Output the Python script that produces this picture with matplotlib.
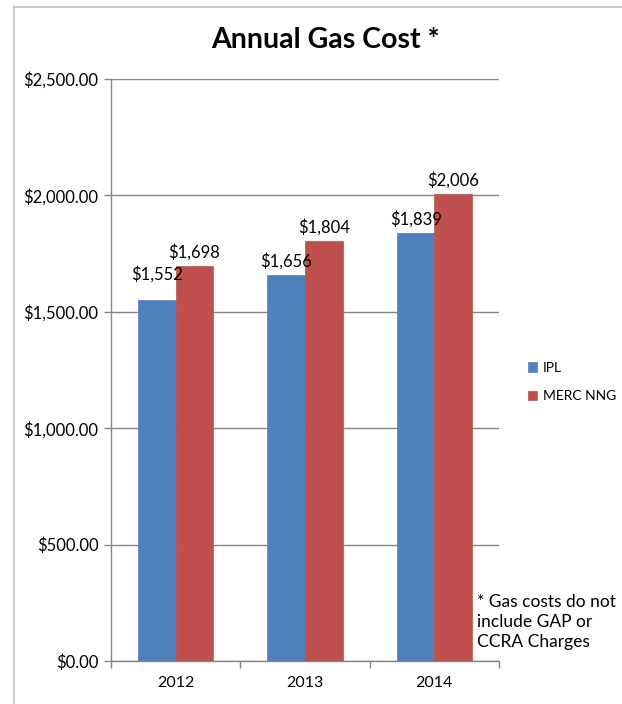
import matplotlib
matplotlib.use("Agg")
import matplotlib.pyplot as plt
from matplotlib.lines import Line2D
import numpy as np

plt.rcParams['font.family'] = ['Lato', 'DejaVu Sans']

years = ["2012", "2013", "2014"]
ipl = [1552, 1656, 1839]
merc = [1698, 1804, 2006]
series_names = ["IPL", "MERC NNG"]
colors = ["#4F81BD", "#C0504D"]
yticks = [0, 500, 1000, 1500, 2000, 2500]
title = "Annual Gas Cost *"
note = "* Gas costs do not\ninclude GAP or\nCCRA Charges"

fig = plt.figure(figsize=(6.22, 7.04), dpi=100)
ax = fig.add_axes([111/622, 1-661/704, (499-111)/622, (661-79)/704])

x = np.arange(len(years))
w = 0.29
grid_c = "#868686"
for i, (vals, name, c) in enumerate(zip([ipl, merc], series_names, colors)):
    off = (i - 0.5) * w
    bars = ax.bar(x + off, vals, w, color=c, label=name, edgecolor=c, linewidth=0.5, zorder=3)
    for j, (b, v) in enumerate(zip(bars, vals)):
        extra = 8 if (i == 0 and j == 0) else 0
        ax.annotate(f"${v:,.0f}", (b.get_x() + b.get_width()/2, v),
                    xytext=(0, 4 + extra), textcoords="offset points",
                    ha="center", va="bottom", fontsize=12, color="black", zorder=4)

ax.set_xlim(-0.5, len(years) - 0.5)
ax.set_ylim(0, 2500)
ax.set_yticks(yticks)
ax.set_yticklabels([f"${v:,.2f}" for v in yticks], fontsize=12)
ax.yaxis.grid(True, color=grid_c, linewidth=1, zorder=0)
ax.set_axisbelow(True)

ax.set_xticks(np.arange(-0.5, len(years)), labels=[""] * (len(years) + 1))
ax.set_xticks(x, labels=years, minor=True, fontsize=11.5)
ax.tick_params(axis="x", which="major", length=5, color=grid_c, width=1)
ax.tick_params(axis="x", which="minor", length=0, pad=11)
ax.tick_params(axis="y", length=5, color=grid_c, width=1, pad=4)

for s in ["top", "right"]:
    ax.spines[s].set_visible(False)
for s in ["left", "bottom"]:
    ax.spines[s].set_color(grid_c)
    ax.spines[s].set_linewidth(1)

fig.text(325/622, 1-40/704, title, ha="center", va="center", fontsize=20.5, fontweight="bold")

leg = fig.legend(loc="center left", bbox_to_anchor=(522/622, 1-382/704), frameon=False,
                 fontsize=10, handlelength=0.7, handleheight=0.7, handletextpad=0.4,
                 labelspacing=1.2, borderaxespad=0)

fig.text(477/622, 1-622/704, note, ha="left", va="center", fontsize=12.5, linespacing=1.3)

border_c = "#BFBFBF"
fig.lines.append(Line2D([14/622, 14/622], [0, 1-7/704], transform=fig.transFigure,
                        color=border_c, linewidth=1.2))
fig.lines.append(Line2D([14/622, 1], [1-7/704, 1-7/704], transform=fig.transFigure,
                        color=border_c, linewidth=1.2))

fig.savefig("out.png", dpi=100)
